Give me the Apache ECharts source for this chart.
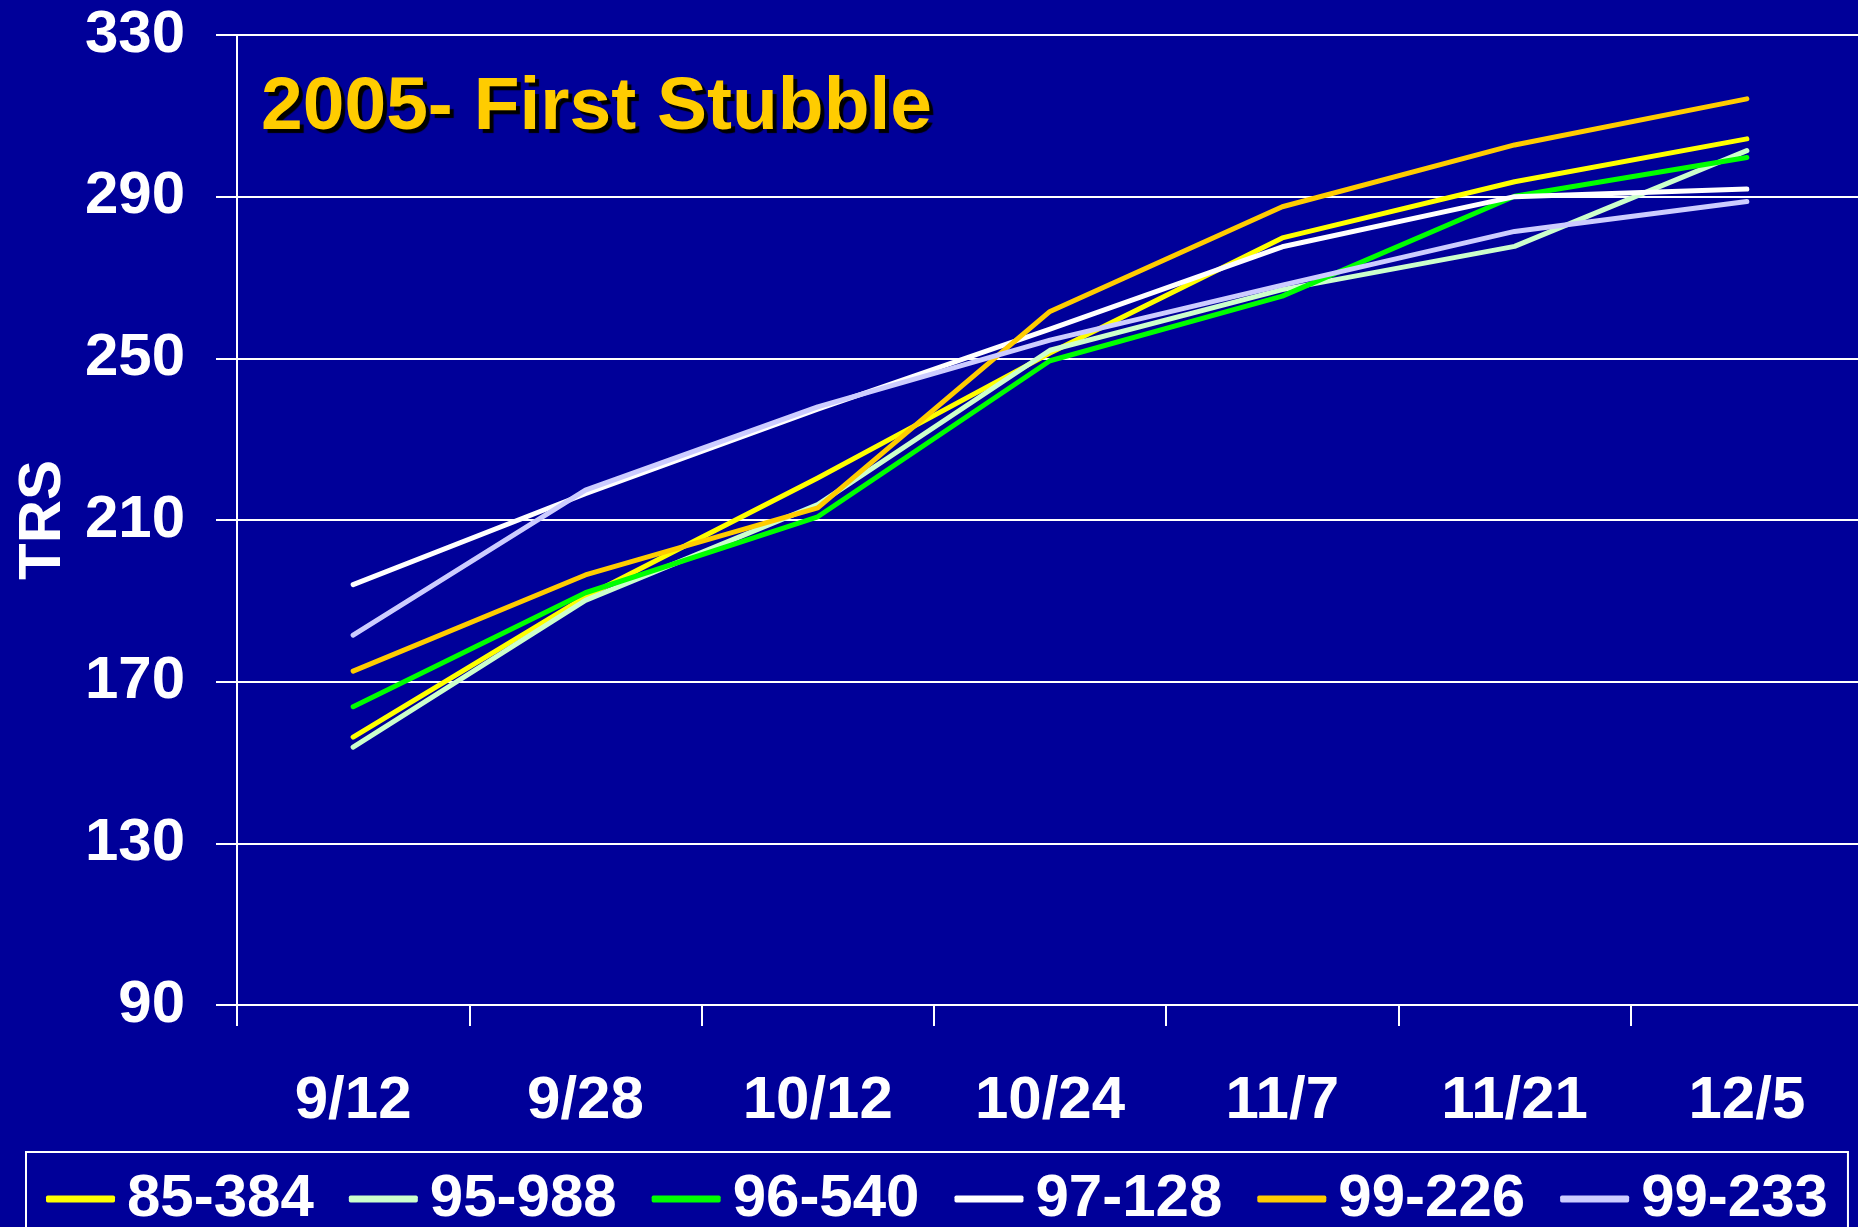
<!DOCTYPE html>
<html>
<head>
<meta charset="utf-8">
<title>2005- First Stubble</title>
<script src="https://cdn.jsdelivr.net/npm/echarts@6/dist/echarts.min.js"></script>
<style>
html, body { margin: 0; padding: 0; background: #000099; }
#trsChart { width: 1858px; height: 1227px; }
</style>
</head>
<body>
<div id="trsChart"></div>
<script>
// sample dates
const dates = ["9/12", "9/28", "10/12", "10/24", "11/7", "11/21", "12/5"];

// TRS per variety
const v85_384 = [156.3, 191.0, 220.4, 251.3, 279.8, 293.7, 304.3];
const v95_988 = [153.8, 190.1, 213.8, 252.0, 267.0, 277.7, 301.4];
const v96_540 = [163.8, 192.0, 210.8, 249.4, 265.4, 290.1, 299.7];
const v97_128 = [194.0, 216.5, 237.4, 257.2, 277.6, 290.0, 291.9];
const v99_226 = [172.6, 196.4, 213.0, 261.6, 287.5, 302.8, 314.2];
const v99_233 = [181.5, 217.4, 238.0, 254.5, 268.1, 281.4, 288.8];

const names = ["85-384", "95-988", "96-540", "97-128", "99-226", "99-233"];
const values = [v85_384, v95_988, v96_540, v97_128, v99_226, v99_233];
const colors = ["#ffff00", "#ccffcc", "#00ff00", "#ffffff", "#ffcc00", "#ccccff"];

const fontFam = '"Liberation Sans", Arial, sans-serif';

const option = {
  backgroundColor: "#000099",
  animation: false,
  title: {
    text: "2005- First Stubble",
    left: 261,
    top: 71,
    padding: 0,
    textStyle: {
      color: "#ffcc00",
      fontFamily: fontFam,
      fontWeight: "bold",
      fontSize: 75,
      textShadowColor: "#000000",
      textShadowOffsetX: 4,
      textShadowOffsetY: 4,
      textShadowBlur: 1
    }
  },
  legend: {
    data: names,
    left: 26,
    top: 1152,
    padding: [17, 20, 40, 20],
    itemGap: 35,
    itemWidth: 69,
    itemHeight: 7,
    icon: "roundRect",
    borderColor: "#ffffff",
    borderWidth: 2,
    textStyle: {
      color: "#ffffff",
      fontFamily: fontFam,
      fontWeight: "bold",
      fontSize: 60,
      padding: [0, 0, 0, 7]
    }
  },
  grid: {
    left: 237,
    top: 35,
    bottom: 222,
    right: -5,
    containLabel: false,
    outerBoundsMode: "none"
  },
  xAxis: {
    type: "category",
    data: dates,
    boundaryGap: true,
    axisLine: { lineStyle: { color: "#ffffff", width: 2 } },
    axisTick: { show: true, inside: false, length: 21, lineStyle: { color: "#ffffff", width: 2 } },
    axisLabel: {
      color: "#ffffff",
      fontFamily: fontFam,
      fontWeight: "bold",
      fontSize: 60,
      margin: 66
    },
    splitLine: { show: false }
  },
  yAxis: {
    type: "value",
    min: 90,
    max: 330,
    interval: 40,
    name: "TRS",
    nameLocation: "middle",
    nameGap: 164,
    nameRotate: 90,
    nameTextStyle: {
      color: "#ffffff",
      fontFamily: fontFam,
      fontWeight: "bold",
      fontSize: 60
    },
    axisLine: { show: true, lineStyle: { color: "#ffffff", width: 2 } },
    axisTick: { show: true, inside: false, length: 21, lineStyle: { color: "#ffffff", width: 2 } },
    axisLabel: {
      color: "#ffffff",
      fontFamily: fontFam,
      fontWeight: "bold",
      fontSize: 60,
      margin: 52
    },
    splitLine: { show: true, lineStyle: { color: "#ffffff", width: 2 } }
  },
  series: names.map((n, i) => ({
    name: n,
    type: "line",
    data: values[i],
    symbol: "none",
    smooth: false,
    color: colors[i],
    lineStyle: { color: colors[i], width: 5, cap: "round", join: "round" }
  }))
};

const chart = echarts.init(document.getElementById("trsChart"));
chart.setOption(option);
</script>
</body>
</html>
